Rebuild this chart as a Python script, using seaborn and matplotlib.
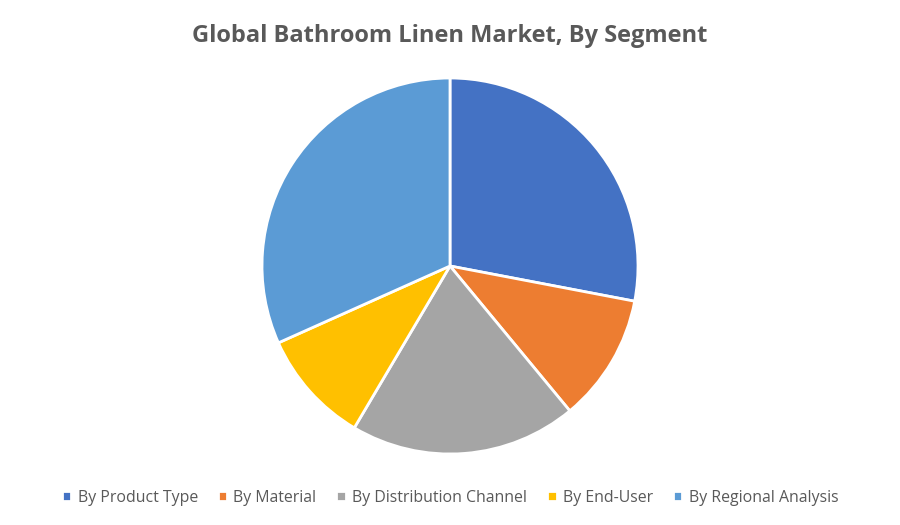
import matplotlib
matplotlib.use("Agg")
import matplotlib.pyplot as plt
import seaborn as sns

# Data
segments = ["By Product Type", "By Material", "By Distribution Channel", "By End-User", "By Regional Analysis"]
shares = [28.0, 11.0, 19.5, 9.8, 31.7]
colors = ["#4472C4", "#ED7D31", "#A5A5A5", "#FFC000", "#5B9BD5"]

sns.set_theme(style="white")
plt.rcParams["font.family"] = "Open Sans"

fig = plt.figure(figsize=(9, 5.25), dpi=100)
ax = fig.add_axes([(450 - 188) / 900, (525 - 266 - 188) / 525, 376 / 900, 376 / 525])
wedges, _ = ax.pie(shares, colors=colors, startangle=90, counterclock=False,
                   wedgeprops={"edgecolor": "white", "linewidth": 2})
ax.set_xlim(-1.0, 1.0)
ax.set_ylim(-1.0, 1.0)
ax.set_aspect("equal")

fig.suptitle("Global Bathroom Linen Market, By Segment", y=0.955,
             fontsize=17, fontweight="bold", color="#595959")

fig.legend(wedges, segments, loc="lower center", bbox_to_anchor=(0.5, 0.01),
           ncol=5, frameon=False, fontsize=11.4, handlelength=0.6, handleheight=0.6,
           handletextpad=0.4, columnspacing=1.25, labelcolor="#595959")

fig.savefig("out.png", dpi=100)
